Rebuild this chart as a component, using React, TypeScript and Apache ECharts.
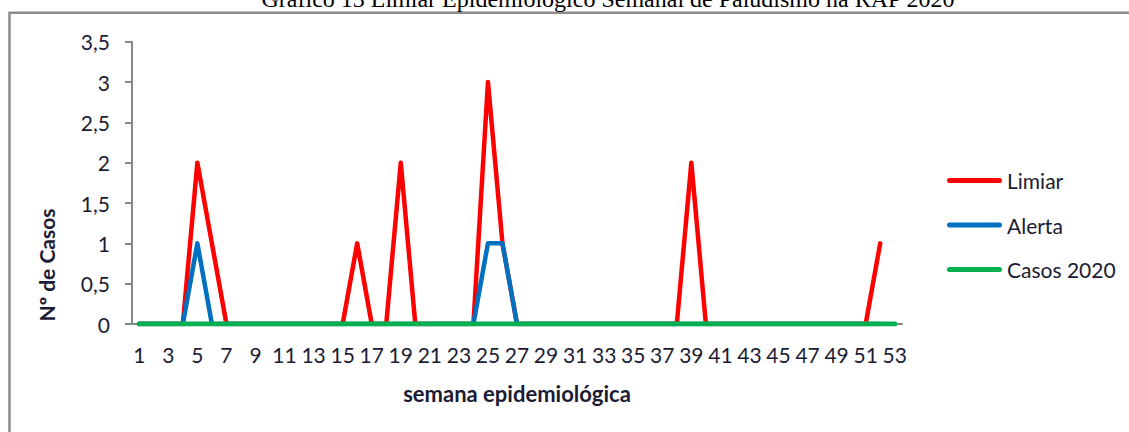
import React, { useEffect, useRef } from "react";
import * as echarts from "echarts";

const weeks: string[] = [
  "1", "2", "3", "4", "5", "6", "7", "8", "9", "10",
  "11", "12", "13", "14", "15", "16", "17", "18", "19", "20",
  "21", "22", "23", "24", "25", "26", "27", "28", "29", "30",
  "31", "32", "33", "34", "35", "36", "37", "38", "39", "40",
  "41", "42", "43", "44", "45", "46", "47", "48", "49", "50",
  "51", "52", "53",
];

// Limiar (weeks 1..52)
const limiar: number[] = [
  0, 0, 0, 0, 2, 1, 0, 0, 0, 0,
  0, 0, 0, 0, 0, 1, 0, 0, 2, 0,
  0, 0, 0, 0, 3, 1, 0, 0, 0, 0,
  0, 0, 0, 0, 0, 0, 0, 0, 2, 0,
  0, 0, 0, 0, 0, 0, 0, 0, 0, 0,
  0, 1,
];

// Alerta (weeks 1..52)
const alerta: number[] = [
  0, 0, 0, 0, 1, 0, 0, 0, 0, 0,
  0, 0, 0, 0, 0, 0, 0, 0, 0, 0,
  0, 0, 0, 0, 1, 1, 0, 0, 0, 0,
  0, 0, 0, 0, 0, 0, 0, 0, 0, 0,
  0, 0, 0, 0, 0, 0, 0, 0, 0, 0,
  0, 0,
];

// Casos 2020 (weeks 1..53)
const casos2020: number[] = [
  0, 0, 0, 0, 0, 0, 0, 0, 0, 0,
  0, 0, 0, 0, 0, 0, 0, 0, 0, 0,
  0, 0, 0, 0, 0, 0, 0, 0, 0, 0,
  0, 0, 0, 0, 0, 0, 0, 0, 0, 0,
  0, 0, 0, 0, 0, 0, 0, 0, 0, 0,
  0, 0, 0,
];

const seriesNames = ["Limiar", "Alerta", "Casos 2020"];
const seriesColors = ["#FF0000", "#0070C0", "#00B050"];

const titleText = "Gráfico 13 Limiar Epidemiológico Semanal de Paludismo na RAP 2020";
const xTitle = "semana epidemiológica";
const yTitle = "Nº de Casos";

const FONT = "Lato, 'Open Sans', sans-serif";
const TEXT = "#1b1b34";
const AXIS = "#888888";

const pill = "path://M2.5,0 L52.5,0 A2.5,2.5 0 0 1 52.5,5 L2.5,5 A2.5,2.5 0 0 1 2.5,0 Z";

export default function App() {
  const ref = useRef<HTMLDivElement>(null);

  useEffect(() => {
    if (!ref.current) return;
    const chart = echarts.init(ref.current, null, { renderer: "svg" });
    const lineSeries = (name: string, data: number[], color: string, width: number) => ({
      name,
      type: "line",
      data,
      symbol: "none",
      showSymbol: false,
      lineStyle: { color, width, cap: "round", join: "round" },
      itemStyle: { color },
    });
    chart.setOption({
      animation: false,
      backgroundColor: "#ffffff",
      grid: { left: 132, right: 227, top: 41.7, bottom: 108, containLabel: false },
      legend: {
        orient: "vertical",
        left: 947,
        top: 170,
        padding: 0,
        itemWidth: 55,
        itemHeight: 5,
        itemGap: 23.5,
        icon: pill,
        textStyle: { fontFamily: FONT, fontSize: 21, color: TEXT },
        data: seriesNames.map((n, i) => ({ name: n, itemStyle: { color: seriesColors[i] } })),
      },
      xAxis: {
        type: "category",
        data: weeks,
        boundaryGap: true,
        axisLine: { show: true, lineStyle: { color: AXIS, width: 2 } },
        axisTick: { show: false },
        axisLabel: {
          interval: 1,
          margin: 20,
          fontFamily: FONT,
          fontSize: 21,
          color: TEXT,
        },
        splitLine: { show: false },
      },
      yAxis: {
        type: "value",
        min: 0,
        max: 3.5,
        interval: 0.5,
        axisLine: { show: true, lineStyle: { color: AXIS, width: 2 } },
        axisTick: { show: true, length: 7, lineStyle: { color: AXIS, width: 2 } },
        axisLabel: {
          margin: 22,
          fontFamily: FONT,
          fontSize: 21,
          color: TEXT,
          formatter: (v: number) => String(v).replace(".", ","),
        },
        splitLine: { show: false },
      },
      graphic: [
        {
          type: "polyline",
          silent: true,
          shape: { points: [[9.5, 432], [9.5, 12.8], [1129, 12.8]] },
          style: { stroke: "#8c8c8c", lineWidth: 2.5, fill: "none" },
        },
        {
          type: "text",
          silent: true,
          x: 608,
          y: 11,
          style: {
            text: titleText,
            font: "24px 'Liberation Serif', 'Times New Roman', serif",
            fill: "#000000",
            align: "center",
            verticalAlign: "bottom",
          },
        },
        {
          type: "text",
          silent: true,
          x: 517,
          y: 393,
          style: {
            text: xTitle,
            font: `bold 22px ${FONT}`,
            fill: TEXT,
            align: "center",
            verticalAlign: "middle",
          },
        },
        {
          type: "text",
          silent: true,
          x: 46,
          y: 265,
          rotation: Math.PI / 2,
          style: {
            text: yTitle,
            font: `bold 21px ${FONT}`,
            fill: TEXT,
            align: "center",
            verticalAlign: "middle",
          },
        },
      ],
      series: [
        lineSeries(seriesNames[0], limiar, seriesColors[0], 4.5),
        lineSeries(seriesNames[1], alerta, seriesColors[1], 4.5),
        lineSeries(seriesNames[2], casos2020, seriesColors[2], 5),
      ],
    });
    return () => chart.dispose();
  }, []);

  return (
    <div
      ref={ref}
      style={{ position: "absolute", left: 0, top: 0, width: 1129, height: 432 }}
    />
  );
}
